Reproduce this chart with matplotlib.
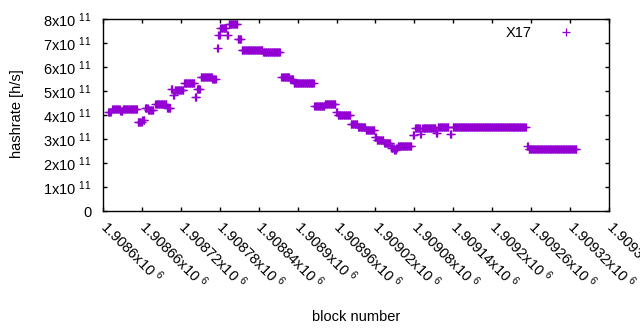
import numpy as np
import matplotlib
matplotlib.use("Agg")
import matplotlib.pyplot as plt
import matplotlib.transforms as mtransforms
from matplotlib.ticker import FixedLocator, FuncFormatter

plt.rcParams['font.family'] = ['Liberation Sans', 'DejaVu Sans']
plt.rcParams['mathtext.fontset'] = 'custom'
plt.rcParams['mathtext.rm'] = 'Liberation Sans'
plt.rcParams['mathtext.it'] = 'Liberation Sans'

# Runs of consecutive blocks sharing one hashrate value
run_start = [1908608, 1908615, 1908627, 1908631, 1908654, 1908661, 1908665, 1908670,
             1908681, 1908699, 1908705, 1908708, 1908711, 1908725, 1908742, 1908745,
             1908751, 1908769, 1908776, 1908778, 1908781, 1908791, 1908794, 1908808,
             1908814, 1908847, 1908875, 1908888, 1908894, 1908926, 1908942, 1908959,
             1908962, 1908982, 1908993, 1909005, 1909019, 1909022, 1909033, 1909044,
             1909049, 1909052, 1909054, 1909077, 1909081, 1909089, 1909092, 1909113,
             1909116, 1909135, 1909139, 1909254, 1909256]
run_end = [1908612, 1908626, 1908630, 1908653, 1908660, 1908664, 1908669, 1908678,
           1908698, 1908704, 1908707, 1908710, 1908724, 1908741, 1908744, 1908750,
           1908768, 1908774, 1908777, 1908780, 1908790, 1908793, 1908807, 1908813,
           1908846, 1908873, 1908887, 1908893, 1908925, 1908941, 1908958, 1908961,
           1908981, 1908992, 1909004, 1909018, 1909021, 1909032, 1909043, 1909048,
           1909051, 1909053, 1909075, 1909079, 1909088, 1909090, 1909112, 1909115,
           1909132, 1909137, 1909251, 1909255, 1909329]
run_value = [4.13, 4.24, 4.18, 4.24, 3.72, 3.78, 4.30, 4.21,
             4.47, 4.28, 5.10, 4.85, 5.03, 5.32, 4.74, 5.10,
             5.57, 5.49, 6.78, 7.33, 7.61, 7.33, 7.78, 7.15,
             6.69, 6.61, 5.57, 5.48, 5.32, 4.39, 4.46, 4.14,
             4.00, 3.61, 3.49, 3.37, 3.08, 2.95, 2.82, 2.62,
             2.53, 2.62, 2.71, 3.17, 3.45, 3.20, 3.47, 3.24,
             3.49, 3.20, 3.49, 2.72, 2.57]  # x10^11 h/s

x_ticks = [1908600 + 60 * i for i in range(14)]
y_ticks = [0, 1e11, 2e11, 3e11, 4e11, 5e11, 6e11, 7e11, 8e11]

blocks = np.concatenate([np.arange(s, e + 1) for s, e in zip(run_start, run_end)])
rates = np.concatenate([np.full(e - s + 1, v * 1e11) for s, e, v in zip(run_start, run_end, run_value)])

fig = plt.figure(figsize=(6.4, 3.3), dpi=100)
ax = fig.add_axes([0.1605, 0.3606, 0.7915, 0.5818])

color = '#9400D3'
ax.plot(blocks, rates, linestyle='none', marker='+', markersize=5.5,
        markeredgewidth=0.9, color=color, label='X17')

ax.set_xlim(1908600, 1909380)
ax.set_ylim(0, 8e11)
ax.xaxis.set_major_locator(FixedLocator(x_ticks))
ax.yaxis.set_major_locator(FixedLocator(y_ticks))


def yfmt(v, pos):
    if v == 0:
        return '0'
    return '%dx10 $^{11}$' % round(v / 1e11)


def xfmt(v, pos):
    return '%gx10 $^{6}$' % (v / 1e6)


ax.yaxis.set_major_formatter(FuncFormatter(yfmt))
ax.xaxis.set_major_formatter(FuncFormatter(xfmt))

ax.tick_params(direction='in', length=3, width=1, top=True, right=True,
               labelsize=10.5, colors='black')
ax.tick_params(axis='y', pad=8)
ax.tick_params(axis='x', pad=6)
offset = mtransforms.ScaledTranslation(7 / 100, 2 / 100, fig.dpi_scale_trans)
for lab in ax.get_xticklabels():
    lab.set_rotation(-45)
    lab.set_ha('left')
    lab.set_va('top')
    lab.set_rotation_mode('anchor')
    lab.set_transform(lab.get_transform() + offset)

for sp in ax.spines.values():
    sp.set_linewidth(1.0)

ax.set_xlabel('block number', fontsize=10.5)
ax.set_ylabel('hashrate [h/s]', fontsize=10.5)
ax.xaxis.set_label_coords(0.5, -0.515)
ax.yaxis.set_label_coords(-0.155, 0.505)

ax.legend(loc='upper right', bbox_to_anchor=(0.944, 0.965), frameon=False,
          markerfirst=False, borderaxespad=0, borderpad=0, handlelength=2,
          handletextpad=1.4, fontsize=10.5)

fig.savefig('out.png', dpi=100)
